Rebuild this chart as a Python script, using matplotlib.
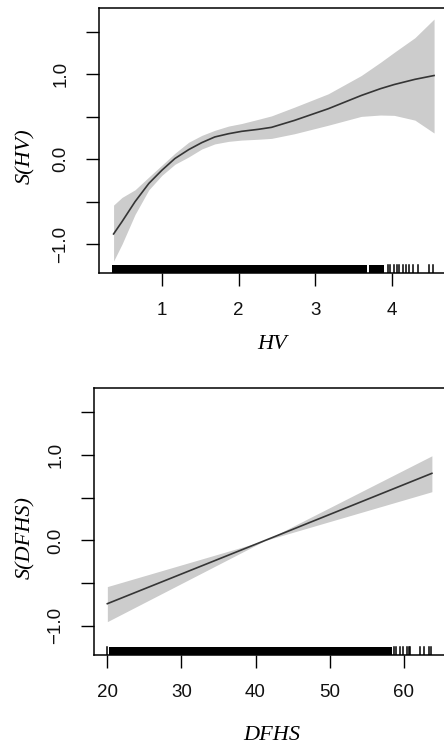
import numpy as np
import matplotlib.pyplot as plt

# HV smooth term: fitted curve and confidence band
hv_x = [0.37, 0.48, 0.65, 0.83, 1.0, 1.17, 1.35, 1.52, 1.69, 1.87, 2.04, 2.26, 2.43,
        2.73, 3.17, 3.60, 3.85, 4.03, 4.30, 4.55]
hv_fit = [-0.88, -0.735, -0.50, -0.285, -0.13, 0.008, 0.113, 0.195, 0.262, 0.30, 0.328,
          0.352, 0.375, 0.457, 0.594, 0.75, 0.83, 0.879, 0.94, 0.985]
hv_upper = [-0.54, -0.45, -0.36, -0.21, -0.07, 0.07, 0.20, 0.28, 0.34, 0.39, 0.42,
            0.47, 0.51, 0.613, 0.77, 0.985, 1.14, 1.258, 1.43, 1.65]
hv_lower = [-1.2, -1.0, -0.65, -0.36, -0.19, -0.06, 0.027, 0.12, 0.18, 0.21, 0.225,
            0.235, 0.245, 0.30, 0.40, 0.504, 0.52, 0.516, 0.46, 0.308]
hv_rug_dense = [(0.35, 3.68), (3.70, 3.90)]
hv_rug = [3.95, 3.98, 4.03, 4.07, 4.09, 4.14, 4.19, 4.22, 4.27, 4.34, 4.49, 4.53]

# DFHS linear term
dfhs_x = [20, 41.3, 63.8]
dfhs_fit = [-0.74, 0.0, 0.785]
dfhs_upper = [-0.54, 0.0, 0.99]
dfhs_lower = [-0.95, 0.0, 0.57]
dfhs_rug_dense = [(20.2, 58.4)]
dfhs_rug = [20.0, 58.65, 59.0, 59.5, 59.9, 60.5, 60.7, 60.9, 62.25, 62.8, 63.4, 63.7]

band_color = '#cccccc'
line_color = '#353535'
tick_color = '#111111'

fig = plt.figure(figsize=(4.44, 7.47), dpi=100)


def style_axes(ax, xlim, xticks, xlabel, ylabel, xlab_pos, ylab_pos):
    ax.set_xlim(*xlim)
    ax.set_ylim(-1.34, 1.78)
    ax.set_yticks([-1.0, -0.5, 0.0, 0.5, 1.0, 1.5])
    ax.set_yticklabels(['\u22121.0', '', '0.0', '', '1.0', ''],
                       rotation=90, va='center', family='Liberation Sans',
                       fontsize=13.5, color=tick_color)
    ax.set_xticks(xticks)
    ax.set_xticklabels([str(t) for t in xticks], family='Liberation Sans',
                       fontsize=13.5, color=tick_color)
    ax.tick_params(axis='both', direction='out', length=9.5, width=1.0, color='black')
    ax.tick_params(axis='y', pad=12)
    ax.tick_params(axis='x', pad=11.2)
    for s in ax.spines.values():
        s.set_linewidth(1.1)
        s.set_color('black')
    ax.set_xlabel(xlabel, family='Liberation Serif', style='italic', fontsize=16, va='center')
    ax.set_ylabel(ylabel, family='Liberation Serif', style='italic', fontsize=16, va='center')
    ax.xaxis.set_label_coords(*xlab_pos)
    ax.yaxis.set_label_coords(*ylab_pos)


def draw_rug(ax, dense, ticks):
    for a, b in dense:
        ax.axvspan(a, b, ymin=0, ymax=0.03, color='black', lw=0)
    for t in ticks:
        ax.axvline(t, ymin=0, ymax=0.03, color='black', lw=1.1)


# Top panel
ax1 = fig.add_axes([0.223, 0.6345, 0.784, 0.3548])
ax1.fill_between(hv_x, hv_lower, hv_upper, color=band_color, lw=0)
ax1.plot(hv_x, hv_fit, color=line_color, lw=1.2)
draw_rug(ax1, hv_rug_dense, hv_rug)
style_axes(ax1, (0.18, 4.72), [1, 2, 3, 4], 'HV', 'S(HV)',
           (0.498, -0.268), (-0.212, 0.442))

# Bottom panel
ax2 = fig.add_axes([0.2124, 0.1232, 0.793, 0.357])
ax2.fill_between(dfhs_x, dfhs_lower, dfhs_upper, color=band_color, lw=0)
ax2.plot(dfhs_x, dfhs_fit, color=line_color, lw=1.2)
draw_rug(ax2, dfhs_rug_dense, dfhs_rug)
style_axes(ax2, (18.24, 65.76), [20, 30, 40, 50, 60], 'DFHS', 'S(DFHS)',
           (0.504, -0.3026), (-0.196, 0.44))

fig.savefig('out.png', dpi=100)
